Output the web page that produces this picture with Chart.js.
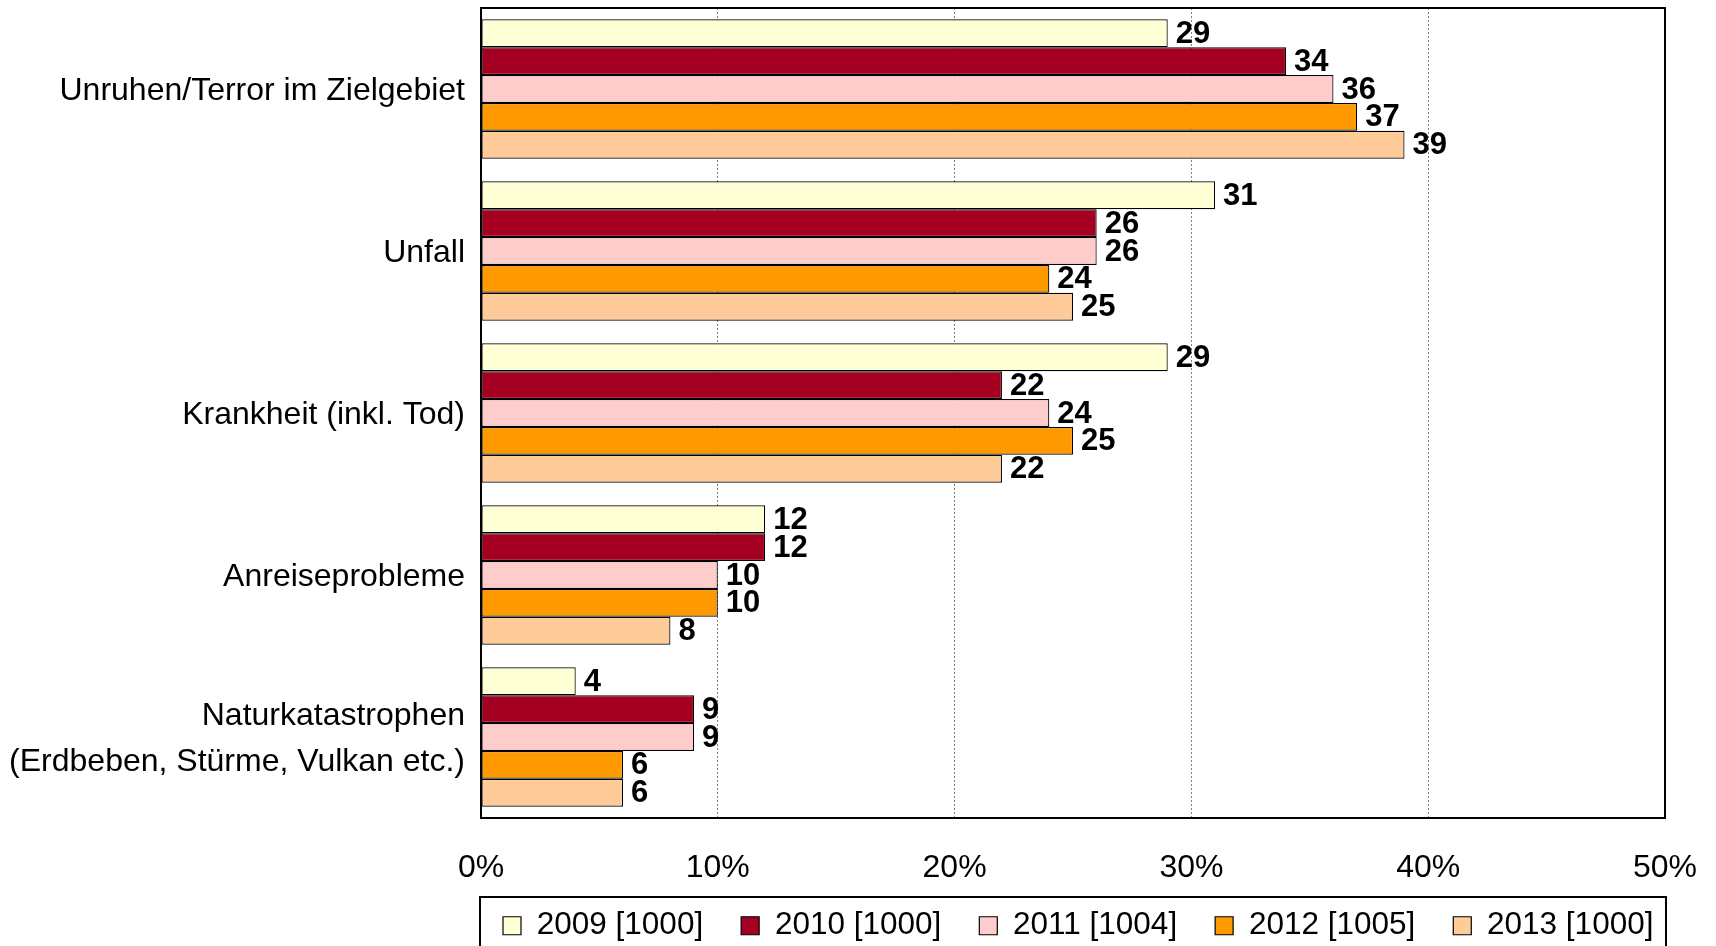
<!DOCTYPE html>
<html>
<head>
<meta charset="utf-8">
<script src="https://cdn.jsdelivr.net/npm/chart.js@4/dist/chart.umd.min.js"></script>
<style>
  body { margin: 0; background: #fff; }
  #wrap { width: 1716px; height: 946px; }
</style>
</head>
<body>
<div id="wrap"><canvas id="riskChart"></canvas></div>
<script>
// Data
const categories = [
  "Unruhen/Terror im Zielgebiet",
  "Unfall",
  "Krankheit (inkl. Tod)",
  "Anreiseprobleme",
  ["Naturkatastrophen", "(Erdbeben, Stürme, Vulkan etc.)"]
];
const seriesLabels = ["2009 [1000]", "2010 [1000]", "2011 [1004]", "2012 [1005]", "2013 [1000]"];
const values2009 = [29, 31, 29, 12, 4];
const values2010 = [34, 26, 22, 12, 9];
const values2011 = [36, 26, 24, 10, 9];
const values2012 = [37, 24, 25, 10, 6];
const values2013 = [39, 25, 22, 8, 6];
const xTicks = [0, 10, 20, 30, 40, 50];

const seriesValues = [values2009, values2010, values2011, values2012, values2013];
const seriesColors = ["#FFFFD5", "#A50021", "#FFCCCC", "#FF9900", "#FFCC99"];

const FONT = "'Liberation Sans', Arial, sans-serif";
const LEGEND_PAD = 38;

// Value labels at the end of each bar
const valueLabels = {
  id: "valueLabels",
  afterDatasetsDraw(chart) {
    const ctx = chart.ctx;
    ctx.save();
    ctx.font = "bold 31px " + FONT;
    ctx.fillStyle = "#000";
    ctx.textAlign = "left";
    ctx.textBaseline = "middle";
    chart.data.datasets.forEach((ds, i) => {
      chart.getDatasetMeta(i).data.forEach((bar, j) => {
        ctx.fillText(ds.data[j], bar.x + 8, bar.y + 1);
      });
    });
    ctx.restore();
  }
};

// Frame round the plot and the legend; legend placed in its box under the plot
const frames = {
  id: "frames",
  afterLayout(chart) {
    const a = chart.chartArea;
    const lg = chart.legend;
    const boxTop = a.bottom + 79;
    // legend text centre about 29px below the box top
    lg.top = boxTop + 29 - LEGEND_PAD - 16;
    lg.right = chart.width;
    // first legend box starts 22px right of the plot's left edge
    const startX = a.left + 22;
    lg.left = 2 * startX - LEGEND_PAD - lg.right + lg.lineWidths[0];
  },
  afterDraw(chart) {
    const a = chart.chartArea;
    const ctx = chart.ctx;
    ctx.save();
    ctx.strokeStyle = "#000";
    ctx.lineWidth = 2;
    ctx.strokeRect(a.left, a.top, a.right - a.left, a.bottom - a.top);
    ctx.strokeRect(a.left - 1, a.bottom + 79, a.right - a.left + 2, 100);
    ctx.restore();
  }
};

new Chart(document.getElementById("riskChart"), {
  type: "bar",
  data: {
    labels: categories,
    datasets: seriesLabels.map((label, i) => ({
      label: label,
      data: seriesValues[i],
      backgroundColor: seriesColors[i],
      borderColor: "#000",
      borderWidth: 1.2,
      borderSkipped: false,
      categoryPercentage: 0.86,
      barPercentage: 1.0
    }))
  },
  options: {
    indexAxis: "y",
    responsive: true,
    maintainAspectRatio: false,
    animation: false,
    layout: { padding: { top: 8, right: 51, left: 0, bottom: 0 } },
    scales: {
      x: {
        min: 0,
        max: 50,
        afterBuildTicks(scale) {
          scale.ticks = xTicks.map(v => ({ value: v }));
        },
        afterFit(scale) {
          scale.height = 79;
          scale.paddingLeft = 0;
          scale.paddingRight = 0;
        },
        ticks: {
          callback: v => v + "%",
          color: "#000",
          padding: 31,
          font: { family: FONT, size: 32 }
        },
        grid: { color: "#808080", lineWidth: 1, drawTicks: false },
        border: { display: false, dash: [2, 2] }
      },
      y: {
        afterFit(scale) {
          scale.width = 481;
          scale.paddingTop = 0;
          scale.paddingBottom = 0;
        },
        ticks: {
          color: "#000",
          padding: 16,
          labelOffset: 2,
          font: { family: FONT, size: 32, lineHeight: 1.44 }
        },
        grid: { display: false, drawTicks: false },
        border: { display: false }
      }
    },
    plugins: {
      legend: {
        position: "bottom",
        maxHeight: 49,
        labels: {
          color: "#000",
          boxWidth: 18,
          boxHeight: 18,
          padding: LEGEND_PAD,
          font: { family: FONT, size: 31.5 }
        }
      },
      tooltip: { enabled: false }
    }
  },
  plugins: [valueLabels, frames]
});
</script>
</body>
</html>
